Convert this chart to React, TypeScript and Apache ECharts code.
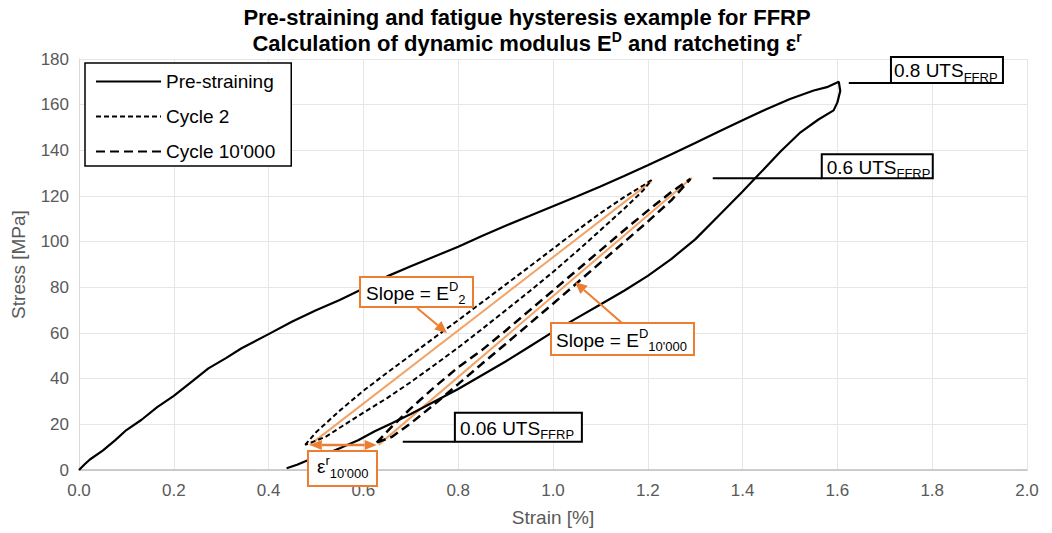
import React, { useEffect, useRef } from 'react';
import * as echarts from 'echarts';

// ---------- data (strain [%], stress [MPa]) ----------
const preStrainLoadStrain = [0, 0.012, 0.023, 0.05, 0.076, 0.1, 0.132, 0.165, 0.2, 0.24, 0.273, 0.31, 0.343, 0.4, 0.45, 0.5, 0.55, 0.6, 0.65, 0.7, 0.75, 0.8, 0.85, 0.9, 0.95, 1.0, 1.05, 1.1, 1.15, 1.2, 1.25, 1.3, 1.35, 1.4, 1.45, 1.5, 1.55, 1.58, 1.603];
const preStrainLoadStress = [0, 2.5, 4.6, 8.5, 13, 17.5, 22, 27.5, 32.5, 39, 44.5, 49, 53.3, 59.5, 65, 70, 74.5, 79.5, 84.8, 89.2, 93.5, 97.8, 102.5, 107, 111.2, 115.5, 119.8, 124.2, 128.8, 133.5, 138.3, 143.2, 148.2, 153.2, 158, 162.5, 166.2, 167.8, 170];
const preStrainUnloadStrain = [1.606, 1.6, 1.592, 1.56, 1.52, 1.48, 1.43, 1.4, 1.35, 1.3, 1.25, 1.2, 1.15, 1.1, 1.05, 1.0, 0.95, 0.9, 0.85, 0.8, 0.75, 0.7, 0.66, 0.624, 0.589, 0.55, 0.526, 0.484, 0.46, 0.438];
const preStrainUnloadStress = [166, 161, 157.5, 153.5, 147.5, 139.5, 128.5, 122, 111.5, 101, 92.5, 85, 78.5, 72.5, 66.5, 60.5, 54, 47.5, 41.5, 35.5, 30, 24.5, 20.5, 17, 13, 9.5, 7.4, 4.4, 2.3, 0.8];

const cycle2Strain = [0.477, 0.5, 0.55, 0.6, 0.65, 0.7, 0.75, 0.8, 0.85, 0.9, 0.95, 1.0, 1.05, 1.1, 1.15, 1.19, 1.208, 1.19, 1.15, 1.1, 1.05, 1.0, 0.95, 0.9, 0.85, 0.8, 0.75, 0.7, 0.65, 0.6, 0.55, 0.52, 0.477];
const cycle2Stress = [11, 16.5, 26.0, 34.7, 42.6, 50.3, 58.0, 65.6, 73.4, 81.2, 89.0, 96.9, 104.8, 112.5, 119.5, 124.6, 127, 122.4, 114.4, 105.0, 95.7, 86.7, 78.2, 69.9, 61.7, 53.6, 46.0, 38.5, 31.5, 25.1, 18.5, 14.5, 11];

const cycle10kStrain = [0.628, 0.66, 0.7, 0.75, 0.8, 0.85, 0.9, 0.95, 1.0, 1.05, 1.1, 1.15, 1.2, 1.25, 1.29, 1.25, 1.2, 1.15, 1.1, 1.05, 1.0, 0.95, 0.9, 0.85, 0.8, 0.75, 0.7, 0.66, 0.628];
const cycle10kStress = [12, 19, 27, 36.3, 45, 52.5, 61, 69.8, 78.6, 87.4, 96.2, 105, 113.6, 121.8, 127.5, 118.2, 108.8, 99.8, 90.8, 81.8, 72.8, 64, 55.2, 46.5, 37.6, 28.8, 20.5, 14.5, 12];

const slope2Strain = [0.487, 1.208];
const slope2Stress = [11, 126.5];
const slope10kStrain = [0.632, 1.293];
const slope10kStress = [11, 128];

const ratchetStrain = [0.487, 0.628];
const ratchetStress = 11;

const utsLevels = [
  { text: '0.8 UTS', stress: 169.5, from: 1.624, to: 1.713 },
  { text: '0.6 UTS', stress: 127.8, from: 1.337, to: 1.567 },
  { text: '0.06 UTS', stress: 12.4, from: 0.683, to: 0.793 },
];

const seriesNames = ['Pre-straining', 'Cycle 2', "Cycle 10'000"];

// ---------- styling ----------
const FONT = "'Liberation Sans', Arial, Helvetica, sans-serif";
const ORANGE = '#ED7D31';
const ORANGE_LINE = '#F4A366';
const AXIS_TEXT = '#595959';

const zip = (xs: number[], ys: number[]) => xs.map((x, i) => [x, ys[i]]);

const richStyles = {
  sup: { fontSize: 13, lineHeight: 14, verticalAlign: 'top', fontFamily: FONT, fill: '#000' },
  sub: { fontSize: 13, lineHeight: 14, verticalAlign: 'bottom', fontFamily: FONT, fill: '#000' },
};

function arrowHead(x1: number, y1: number, x2: number, y2: number, color: string, head = 12, hw = 5.5) {
  const dx = x2 - x1;
  const dy = y2 - y1;
  const L = Math.hypot(dx, dy);
  const ux = dx / L;
  const uy = dy / L;
  const bx = x2 - ux * head;
  const by = y2 - uy * head;
  return {
    base: [bx, by],
    poly: {
      type: 'polygon',
      z: 101,
      shape: { points: [[x2, y2], [bx - uy * hw, by + ux * hw], [bx + uy * hw, by - ux * hw]] },
      style: { fill: color },
      silent: true,
    },
  };
}

function arrow(x1: number, y1: number, x2: number, y2: number, color: string, lw = 2) {
  const h = arrowHead(x1, y1, x2, y2, color);
  return [
    {
      type: 'line', z: 101, silent: true,
      shape: { x1, y1, x2: h.base[0], y2: h.base[1] },
      style: { stroke: color, lineWidth: lw },
    },
    h.poly,
  ];
}

function doubleArrow(x1: number, y1: number, x2: number, y2: number, color: string, lw = 2.5) {
  const a = arrowHead(x1, y1, x2, y2, color, 12, 5);
  const b = arrowHead(x2, y2, x1, y1, color, 12, 5);
  return [
    {
      type: 'line', z: 101, silent: true,
      shape: { x1: b.base[0], y1: b.base[1], x2: a.base[0], y2: a.base[1] },
      style: { stroke: color, lineWidth: lw },
    },
    a.poly,
    b.poly,
  ];
}

function textBox(x: number, y: number, w: number, h: number, stroke: string, text: string, padX: number, dy = 0) {
  return [
    {
      type: 'rect', z: 100, silent: true,
      shape: { x, y, width: w, height: h },
      style: { fill: '#fff', stroke, lineWidth: 2 },
    },
    {
      type: 'text', z: 102, silent: true,
      style: {
        text,
        x: x + padX,
        y: y + h / 2 + dy,
        fontSize: 19,
        fontFamily: FONT,
        fill: '#000',
        lineHeight: 26,
        textAlign: 'left',
        textVerticalAlign: 'middle',
        align: 'left',
        verticalAlign: 'middle',
        rich: richStyles,
      },
    },
  ];
}

export default function App() {
  const ref = useRef<HTMLDivElement>(null);

  useEffect(() => {
    document.body.style.margin = '0';
    const chart = echarts.init(ref.current as HTMLDivElement, null, { renderer: 'svg' });

    const option: any = {
      animation: false,
      backgroundColor: '#fff',
      title: {
        text: 'Pre-straining and fatigue hysteresis example for FFRP\nCalculation of dynamic modulus E{sup|D} and ratcheting ε{sup|r}',
        left: 522,
        top: -1,
        textAlign: 'center',
        textStyle: {
          fontSize: 22,
          fontWeight: 'bold',
          color: '#000',
          fontFamily: FONT,
          lineHeight: 26,
          rich: {
            sup: { fontSize: 14, fontWeight: 'bold', color: '#000', fontFamily: FONT, lineHeight: 14, verticalAlign: 'top' },
          },
        },
      },
      grid: { left: 79, right: 25, top: 59, bottom: 63, containLabel: false },
      legend: {
        data: seriesNames,
        orient: 'vertical',
        left: 85,
        top: 63,
        itemWidth: 65,
        itemHeight: 14,
        itemGap: 16,
        padding: [9, 16, 5, 10],
        borderColor: '#000',
        borderWidth: 1.5,
        backgroundColor: '#fff',
        itemStyle: { color: 'rgba(0,0,0,0)', borderWidth: 0, opacity: 0 },
        textStyle: { fontSize: 19, color: '#000', fontFamily: FONT },
        z: 20,
      },
      xAxis: {
        type: 'value',
        min: 0,
        max: 2,
        interval: 0.2,
        name: 'Strain [%]',
        nameLocation: 'middle',
        nameGap: 38,
        nameTextStyle: { fontSize: 19, color: AXIS_TEXT, fontFamily: FONT },
        axisLine: { show: true, lineStyle: { color: '#bfbfbf', width: 1.5 } },
        axisTick: { show: false },
        axisLabel: { fontSize: 17, color: AXIS_TEXT, fontFamily: FONT, margin: 12, formatter: (v: number) => v.toFixed(1) },
        splitLine: { show: true, lineStyle: { color: '#e6e6e6', width: 1 } },
      },
      yAxis: {
        type: 'value',
        min: 0,
        max: 180,
        interval: 20,
        name: 'Stress [MPa]',
        nameLocation: 'middle',
        nameGap: 51,
        nameTextStyle: { fontSize: 19, color: AXIS_TEXT, fontFamily: FONT },
        axisLine: { show: true, lineStyle: { color: '#d9d9d9', width: 1 } },
        axisTick: { show: false },
        axisLabel: { fontSize: 17, color: AXIS_TEXT, fontFamily: FONT, margin: 10 },
        splitLine: { show: true, lineStyle: { color: '#e6e6e6', width: 1 } },
      },
      series: [
        {
          name: 'Slope E2',
          type: 'line',
          data: zip(slope2Strain, slope2Stress),
          symbol: 'none',
          lineStyle: { color: ORANGE_LINE, width: 2 },
          z: 2,
          silent: true,
        },
        {
          name: 'Slope E10000',
          type: 'line',
          data: zip(slope10kStrain, slope10kStress),
          symbol: 'none',
          lineStyle: { color: ORANGE_LINE, width: 2 },
          z: 2,
          silent: true,
        },
        {
          name: seriesNames[0],
          type: 'line',
          data: zip(preStrainLoadStrain.concat(preStrainUnloadStrain), preStrainLoadStress.concat(preStrainUnloadStress)),
          symbol: 'none',
          itemStyle: { color: '#000' },
          lineStyle: { color: '#000', width: 2.2, type: 'solid' },
          z: 3,
        },
        {
          name: seriesNames[1],
          type: 'line',
          data: zip(cycle2Strain, cycle2Stress),
          symbol: 'none',
          itemStyle: { color: '#000' },
          lineStyle: { color: '#000', width: 2, type: [5, 3] },
          z: 3,
        },
        {
          name: seriesNames[2],
          type: 'line',
          data: zip(cycle10kStrain, cycle10kStress),
          symbol: 'none',
          itemStyle: { color: '#000' },
          lineStyle: { color: '#000', width: 2.5, type: [9, 5] },
          z: 3,
        },
      ],
    };

    chart.setOption(option);

    const px = (x: number, y: number) => chart.convertToPixel({ gridIndex: 0 }, [x, y]) as number[];

    const graphic: any[] = [];

    // UTS leader lines and boxes
    const utsBoxSizes = [
      [112, 26],
      [111, 24],
      [127, 29],
    ];
    const utsPad = [3, 5, 5];
    utsLevels.forEach((u, i) => {
      const a = px(u.from, u.stress);
      const b = px(u.to, u.stress);
      graphic.push({
        type: 'line', z: 99, silent: true,
        shape: { x1: a[0], y1: a[1], x2: b[0], y2: b[1] },
        style: { stroke: '#000', lineWidth: 2 },
      });
      const [w, h] = utsBoxSizes[i];
      graphic.push(...textBox(b[0], b[1] - h, w, h, '#000', u.text + '{sub|FFRP}', utsPad[i], 1));
    });

    // Orange slope annotations
    graphic.push(...textBox(360, 277, 113, 30, ORANGE, 'Slope = E{sup|D}{sub|2}', 6, 1));
    graphic.push(...arrow(417, 308, 447, 333, ORANGE, 2));

    graphic.push(...textBox(551, 323, 143, 32, ORANGE, "Slope = E{sup|D}{sub|10'000}", 5, 1));
    graphic.push(...arrow(622, 323, 575, 282, ORANGE, 2));

    // Ratcheting arrow and box
    const r1 = px(ratchetStrain[0], ratchetStress);
    const r2 = px(ratchetStrain[1], ratchetStress);
    graphic.push(...doubleArrow(r1[0], r1[1], r2[0], r2[1], ORANGE, 2.5));
    graphic.push(...textBox(308, 451, 69, 35, ORANGE, "ε{sup|r}{sub|10'000}", 9, -2));

    chart.setOption({ graphic });

    return () => chart.dispose();
  }, []);

  return <div ref={ref} style={{ width: 1052, height: 533 }} />;
}
